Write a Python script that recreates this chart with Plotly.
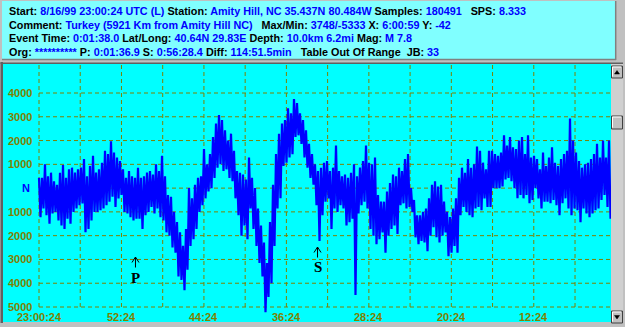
import plotly.graph_objects as go

# ---------------- data ----------------
# per-column max / min of the trace, one column every ~17.5 s
HI = [430, 430, 1000, 500, 650, 290, 140, 650, 970, 430, 790, 860, 650, 790, 860, 1220, 500, 930, 1360, 650,
      790, 1070, 1570, 1430, 1970, 1500, 1290, 1140, 790, 430, 720, 500, 430, 860, 430, 500, 650, 720,
      570, 1000, 715, 1360, 500, -290, -360, -1000, -1430, -1860, -2430, -1720, 0, -430, 140, 430, 500, 1640, 1000, 1430,
      2150, 2720, 3070, 2860, 2430, 2000, 2290, 1570, 720, 640, 570, 360, 1290, 430, 0, -860, -1570, -2290,
      -3150, -1430, 140, 1430, 2290, 2720, 2860, 3360, 3150, 3748, 3580, 3150, 2860, 2430, 1860, 1430, 1000, 720, 860, 1070,
      1140, 720, 860, 1790, 720, 500, 570, 430, 640, 1000, 500, 860, 1140, 1790, 1070, 1000, 1290, -290, -570,
      -570, -140, 210, 570, 500, 860, 720, 1220, 1430, 0, -500, -1140, -1140, -1000, -860, -430, 140, 290, 70, 140,
      -570, -1000, -1220, -860, -430, 430, 860, 640, 1220, 860, 1000, 1750, 1570, 1070, 790, 1570, 1570, 1430, 1360,
      1500, 2220, 1790, 2150, 1720, 1640, 2000, 2150, 1430, 2220, 1290, 1360, 1220, 790, 1500, 930, 1290, 1720, 1070, 930,
      1220, 1430, 1570, 2930, 2000, 1500, 1140, 860, 1000, 1070, 1220, 1430, 1860, 1290, 2000, 1290, 2000]
LO = [-1220, -860, -1140, -1500, -1070, -1000, -1360, -1570, -1720, -1290, -1500, -1000, -860, -720, -650, -1860, -1720, -1360, -1000, -1000,
      -930, -860, -720, -570, -360, -790, -430, -290, -1000, -1070, -1220, -1360, -1290, -1290, -1720, -1140, -1000, -790,
      -1070, -860, -1220, -1360, -1860, -2000, -2500, -2720, -3720, -3860, -4290, -3430, -2430, -2150, -1720, -1000, -720, -430, -140, 0,
      430, 860, 1000, 720, 790, 430, 290, -430, -1140, -2000, -1570, -2150, -860, -1720, -2430, -3150, -3720, -5220,
      -4580, -4000, -2430, -860, -430, 930, 1070, 1290, 1430, 2150, 2220, 1860, 1290, 860, 430, 140, -720, -2220, -1140, -570,
      -430, -1720, -860, -1000, -720, -860, -1570, -1430, -1290, -4500, -1070, -720, -570, -860, -1720, -2000, -2360, -2150, -1860,
      -2720, -2000, -1720, -1570, -1930, -720, -640, -860, -790, -1000, -2070, -2360, -2220, -2290, -2650, -2000, -1640, -2070, -2290, -2000,
      -1860, -2860, -2720, -2430, -2720, -1140, -790, -1000, -1140, -1220, -860, -790, -930, -430, -790, -790, 0, 0, 0,
      70, 360, 430, 290, 0, -430, -290, -430, -290, -640, -500, 0, -430, -860, -570, -570, -640, -500, -720, -1140,
      -640, -430, -860, -1140, -860, -930, -1430, -860, -1070, -1220, -1070, -930, -860, -500, -290, -790, -1290]
DT_MIN = 0.29104          # column spacing in minutes

X_GRID_MIN = [0, 4, 8, 12, 16, 20, 24, 28, 32, 36, 40, 44, 48, 52]
X_TICK_MIN = [0, 8, 16, 24, 32, 40, 48]
X_TICK_TEXT = ["23:00:24", "52:24", "44:24", "36:24", "28:24", "20:24", "12:24"]
Y_TICK_VALS = [4000, 3000, 2000, 1000, 0, -1000, -2000, -3000, -4000, -5000]
Y_TICK_TEXT = ["4000", "3000", "2000", "1000", "N", "1000", "2000", "3000", "4000", "5000"]

P_TIME, S_TIME = 9.36, 27.02

HEADER = [
    [("Start:", "8/16/99 23:00:24 UTC (L)"), ("Station:", "Amity Hill, NC 35.437N 80.484W"),
     ("Samples:", "180491"), ("\u00a0 SPS:", "8.333")],
    [("Comment:", "Turkey (5921 Km from Amity Hill NC)"), ("\u00a0 Max/Min:", "3748/-5333"),
     ("X:", "6:00:59"), ("Y:", "-42")],
    [("Event Time:", "0:01:38.0"), ("Lat/Long:", "40.64N 29.83E"), ("Depth:", "10.0km 6.2mi"), ("Mag:", "M 7.8")],
    [("Org:", "**********"), ("P:", "0:01:36.9"), ("S:", "0:56:28.4"), ("Diff:", "114:51.5min"),
     ("\u00a0 Table Out Of Range \u00a0JB:", "33")],
]

# ---------------- geometry helpers ----------------
W, H = 625, 327
PL, PR, PT, PB = 3, 611, 64, 322
X_PX0, X_PX_PER_MIN = 39, 10.308
Y_PX_4000, Y_PX_PER_UNIT = 93, 214 / 9000


def tx(px):
    return (px - X_PX0) / X_PX_PER_MIN


def vy(py):
    return 4000 - (py - Y_PX_4000) / Y_PX_PER_UNIT


def ppx(px):
    return (px - PL) / (PR - PL)


def ppy(py):
    return (PB - py) / (PB - PT)


OLIVE = "#808000"
BLUE = "#0000FF"
FONT = "Liberation Sans, Arial, sans-serif"

fig = go.Figure()

xs, ys = [], []
for i, (h, l) in enumerate(zip(HI, LO)):
    t = i * DT_MIN
    xs += [t, t + DT_MIN / 2]
    ys += [h, l]
fig.add_trace(go.Scatter(x=xs, y=ys, mode="lines", line=dict(color=BLUE, width=2.2),
                         hoverinfo="skip", showlegend=False))

shapes = []
# header panel
shapes.append(dict(type="rect", xref="paper", yref="paper", x0=ppx(2), x1=ppx(615), y0=ppy(59), y1=ppy(1),
                   fillcolor="#80FFFF", line=dict(width=0), layer="above"))
shapes.append(dict(type="line", xref="paper", yref="paper", x0=ppx(2), x1=ppx(616), y0=ppy(59.5), y1=ppy(59.5),
                   line=dict(color="#808080", width=1.5)))
shapes.append(dict(type="line", xref="paper", yref="paper", x0=ppx(615.7), x1=ppx(615.7), y0=ppy(1), y1=ppy(60),
                   line=dict(color="#808080", width=1.5)))
# plot panel bevel
shapes.append(dict(type="rect", xref="paper", yref="paper", x0=ppx(0.5), x1=ppx(3), y0=ppy(323), y1=ppy(62),
                   fillcolor="#606060", line=dict(width=0)))
shapes.append(dict(type="rect", xref="paper", yref="paper", x0=ppx(0.5), x1=ppx(623), y0=ppy(64), y1=ppy(62.5),
                   fillcolor="#606060", line=dict(width=0)))
# grid
for t in X_GRID_MIN:
    shapes.append(dict(type="line", xref="x", yref="y", x0=t, x1=t, y0=-5000, y1=vy(PT),
                       line=dict(color=OLIVE, width=1, dash="4px,3px"), layer="below"))
for v in Y_TICK_VALS:
    shapes.append(dict(type="line", xref="x", yref="y", x0=0, x1=tx(PR), y0=v, y1=v,
                       line=dict(color=OLIVE, width=1, dash="4px,3px"), layer="below"))
# scrollbar
shapes.append(dict(type="rect", xref="paper", yref="paper", x0=ppx(611), x1=ppx(623), y0=ppy(323), y1=ppy(64),
                   fillcolor="#D0D0D0", line=dict(width=0)))
for (y0, y1) in [(66, 78), (116, 129), (311, 323)]:
    shapes.append(dict(type="rect", xref="paper", yref="paper", x0=ppx(611.5), x1=ppx(622.5), y0=ppy(y1), y1=ppy(y0),
                       fillcolor="#C0C0C0", line=dict(color="#404040", width=1)))
    shapes.append(dict(type="path", xref="paper", yref="paper",
                       path=f"M {ppx(612.5)},{ppy(y1-1.5)} L {ppx(612.5)},{ppy(y0+1)} L {ppx(621)},{ppy(y0+1)}",
                       line=dict(color="#FFFFFF", width=1)))
# arrows on buttons
shapes.append(dict(type="path", xref="paper", yref="paper",
                   path=f"M {ppx(614.5)},{ppy(74)} L {ppx(619.5)},{ppy(74)} L {ppx(617)},{ppy(70.5)} Z",
                   fillcolor="#000000", line=dict(color="#000000", width=0.5)))
shapes.append(dict(type="path", xref="paper", yref="paper",
                   path=f"M {ppx(614.5)},{ppy(315.5)} L {ppx(619.5)},{ppy(315.5)} L {ppx(617)},{ppy(319)} Z",
                   fillcolor="#000000", line=dict(color="#000000", width=0.5)))
# P / S arrival carets
for (t, apex) in [(P_TIME, 257), (S_TIME, 247)]:
    dx = 3.5 / X_PX_PER_MIN
    shapes.append(dict(type="path", xref="x", yref="y",
                       path=(f"M {t-dx},{vy(apex+5.5)} L {t},{vy(apex)} L {t+dx},{vy(apex+5.5)} "
                             f"M {t},{vy(apex)} L {t},{vy(apex+10.5)}"),
                       line=dict(color="#000000", width=1), layer="above"))

ann = []
for t, txt in zip(X_TICK_MIN, X_TICK_TEXT):
    ann.append(dict(x=t, y=vy(317), xref="x", yref="y", text=f"<b>{txt}</b>", showarrow=False,
                    xanchor="center", yanchor="middle", font=dict(family=FONT, size=11, color=OLIVE)))
for v, txt in zip(Y_TICK_VALS, Y_TICK_TEXT):
    col = BLUE if txt == "N" else OLIVE
    ann.append(dict(x=ppx(33.8 if txt != "N" else 31.5), y=v, xref="paper", yref="y", text=f"<b>{txt}</b>",
                    showarrow=False, xanchor="right", yanchor="middle",
                    font=dict(family=FONT, size=11, color=col)))
ann.append(dict(x=P_TIME, y=vy(277.5), xref="x", yref="y", text="<b>P</b>", showarrow=False,
                xanchor="center", yanchor="middle",
                font=dict(family="Liberation Serif, Times New Roman, serif", size=15, color="#000000")))
ann.append(dict(x=S_TIME, y=vy(267), xref="x", yref="y", text="<b>S</b>", showarrow=False,
                xanchor="center", yanchor="middle",
                font=dict(family="Liberation Serif, Times New Roman, serif", size=15, color="#000000")))

LINE_Y = [10.8, 24.6, 38.2, 51.8]
for row, py in zip(HEADER, LINE_Y):
    parts = [f"{lab} <span style='color:{BLUE}'>{val}</span>" for lab, val in row]
    txt = "<b>" + " ".join(parts) + "</b>"
    ann.append(dict(x=ppx(7), y=ppy(py), xref="paper", yref="paper", text=txt, showarrow=False,
                    xanchor="left", yanchor="middle", font=dict(family=FONT, size=10.8, color="#000000")))

fig.update_layout(
    width=W, height=H, autosize=False,
    margin=dict(l=PL, r=W - PR, t=PT, b=H - PB, pad=0),
    paper_bgcolor="#C0C0C0", plot_bgcolor="#00FFFF",
    xaxis=dict(range=[tx(PL), tx(PR)], visible=False, fixedrange=True),
    yaxis=dict(range=[vy(PB), vy(PT)], visible=False, fixedrange=True),
    shapes=shapes, annotations=ann, showlegend=False,
)

fig.write_html("out.html", config={"displayModeBar": False},
               post_script="document.body.style.margin='0';document.body.style.overflow='hidden';")
